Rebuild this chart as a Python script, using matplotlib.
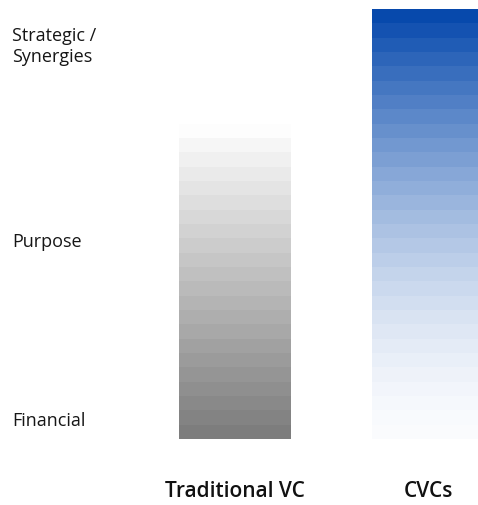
import numpy as np
import matplotlib.pyplot as plt
from matplotlib.colors import to_rgb

plt.rcParams['font.family'] = ['Open Sans', 'DejaVu Sans']

# data
categories = ["Traditional VC", "CVCs"]
bar_heights = [100, 100]
# level (0..100) where the colour fades out to white
fade_levels = [73, 100]
levels = ["Financial", "Purpose", "Strategic /\nSynergies"]
level_pos = [4.4, 46, 91.6]

colors_dark = ["#7a7a7a", "#0044aa"]
n_seg = 30

fig = plt.figure(figsize=(4.78, 5.06), dpi=100)
ax = fig.add_axes([0, 0.1304, 1, 0.8498])

white = np.array([1.0, 1.0, 1.0])
for i, (cat, h) in enumerate(zip(categories, bar_heights)):
    seg = h / n_seg
    dark = np.array(to_rgb(colors_dark[i]))
    for k in range(n_seg):
        mid = (k + 0.5) * seg
        if i == 0:
            # dark at bottom, white above fade level
            t = max(0.0, 1 - mid / fade_levels[i])
        else:
            # nearly white at bottom, dark at top
            t = 0.02 + 0.98 * (mid / fade_levels[i]) ** 1.6
        c = white * (1 - t) + dark * t
        ax.bar(i, seg, bottom=k * seg, width=0.58, color=c, linewidth=0)

ax.set_xlim(-1.2176, 1.259)
ax.set_ylim(0, 100)
ax.axis("off")

for lab, y in zip(levels, level_pos):
    ax.text(12 / 478, y, lab, transform=ax.get_yaxis_transform(),
            ha="left", va="center", fontsize=13, color="#161616",
            linespacing=1.2)

for i, cat in enumerate(categories):
    ax.text(i, -12, cat, ha="center", va="center", fontsize=15,
            fontweight="semibold", color="#111111", clip_on=False)

fig.savefig("out.png", dpi=100, facecolor="white")
